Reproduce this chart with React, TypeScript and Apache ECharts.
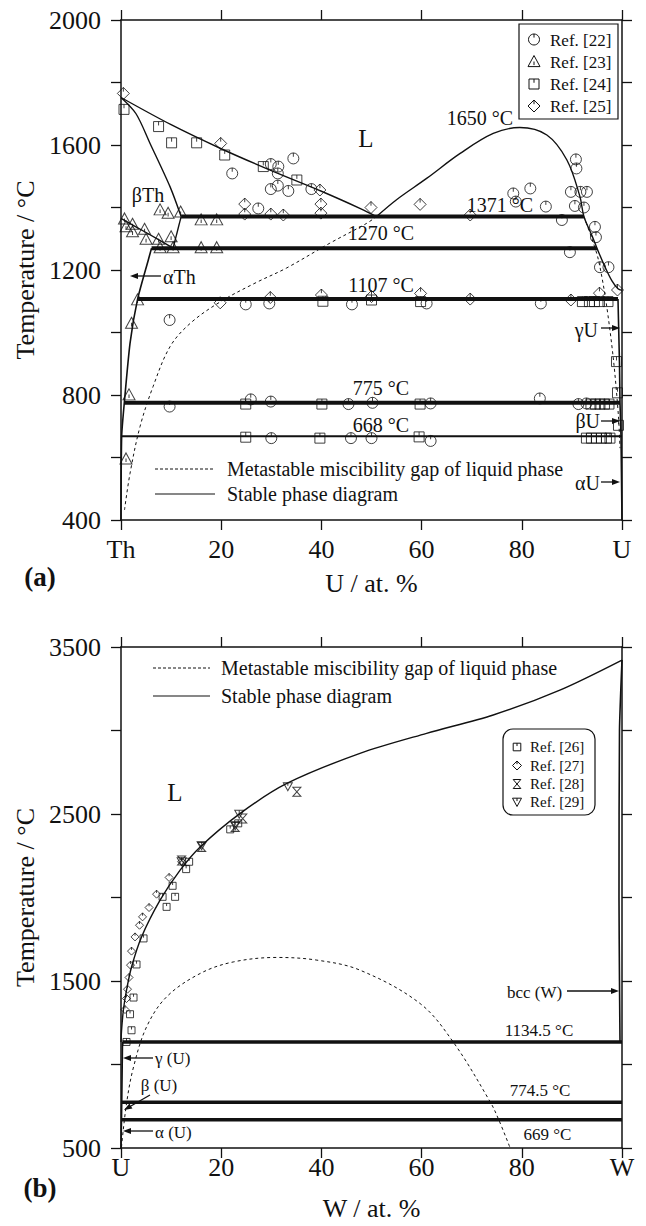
import React, { useEffect, useRef } from "react";
import * as echarts from "echarts";

// ---------- (a) Th-U ----------
const xTicksA = ["Th", "20", "40", "60", "80", "U"];
const xTicksB = ["U", "20", "40", "60", "80", "W"];

const thLiquidus = [[0, 1752], [10, 1665], [20, 1588], [30, 1518], [40, 1452], [48, 1395], [51, 1371]];
const uDome = [[51, 1371], [55, 1425], [61, 1493], [67.7, 1573], [74.3, 1637], [79.6, 1656], [85, 1632], [89, 1552], [91.6, 1435], [92.4, 1371], [94, 1310], [95, 1270], [96.6, 1210], [98, 1165], [99.2, 1140], [100, 1135]];
const thBetaSolidus = [[0, 1752], [3, 1700], [5.8, 1605], [9.8, 1466], [12, 1371]];
const thBetaAlpha = [[0, 1365], [5, 1320], [10.4, 1270]];
const thBetaSolvus = [[12, 1371], [10.4, 1270]];
const thAlphaSolvus = [[6.1, 1270], [5.45, 1232], [3.3, 1106], [1.8, 965], [0.66, 775], [0.13, 668], [0, 400]];
const uGammaSolvus = [[99.2, 1107], [99.5, 900], [99.6, 775], [99.8, 668], [100, 400]];
const metaLeftA = [[0.7, 432], [1.8, 549], [3.8, 699], [6.4, 827], [9.8, 955], [13.8, 1029], [19.8, 1098], [27, 1160], [33, 1206], [41.7, 1286], [49, 1349], [51, 1371]];
const metaRightA = [[92.4, 1371], [94, 1300], [95.3, 1232], [96.8, 1100], [98.3, 912], [99.3, 730], [99.6, 630]];
// [x start, x end, temperature]
const isothermsA = [[12, 92.4, 1371], [6.1, 95, 1270], [3.4, 99.2, 1107], [0.66, 99.6, 775], [0.13, 100, 668]];

const ref22 = [[22.2, 1509], [29.9, 1539], [31.4, 1531], [31.3, 1509], [34.4, 1557], [29.9, 1459], [31.3, 1470], [33.4, 1453], [38, 1459], [27.4, 1397], [78.3, 1445], [78.8, 1419], [81.7, 1461], [84.8, 1403], [88, 1360], [90.8, 1554], [90.9, 1525], [89.8, 1450], [91.7, 1450], [93, 1450], [90.6, 1405], [92.4, 1400], [89.6, 1257], [94.6, 1338], [94.8, 1305], [95.6, 1209], [97.3, 1209], [9.7, 1040], [24.9, 1090], [29.6, 1093], [46.1, 1090], [61, 1093], [83.8, 1093], [9.7, 763], [25.9, 786], [29.9, 779], [45.4, 771], [61.8, 773], [83.6, 789], [50.2, 775], [91.3, 771], [92.9, 773], [30, 662], [45.9, 662], [50, 662], [61.8, 653]];
const ref23 = [[7.8, 1394], [9.4, 1383], [11.9, 1387], [16, 1362], [19.1, 1362], [0.7, 1365], [1, 1340], [2.3, 1348], [2.3, 1324], [4.7, 1332], [5, 1300], [7.5, 1300], [10, 1308], [7.8, 1273], [10.4, 1273], [16, 1273], [19.1, 1273], [3.3, 1106], [2.1, 1031], [1.6, 802], [1, 597]];
const ref24 = [[0.6, 1714], [7.5, 1659], [10.1, 1607], [15.1, 1607], [20.7, 1568], [28.4, 1531], [35.1, 1488], [40.3, 1100], [50, 1104], [59.8, 1099], [92.1, 1099], [93.5, 1099], [94.5, 1099], [95.5, 1099], [97.2, 1099], [98.9, 907], [99.1, 807], [99.3, 703], [24.9, 771], [40.1, 771], [59.7, 771], [93.8, 771], [94.7, 771], [95.6, 771], [96.5, 771], [97.4, 771], [24.9, 665], [39.7, 662], [59.5, 666], [92.9, 662], [93.9, 662], [94.9, 662], [95.9, 662], [96.9, 662], [97.6, 662]];
const ref25 = [[0.47, 1765], [19.9, 1605], [39.7, 1456], [24.7, 1411], [24.7, 1379], [29.9, 1379], [32.4, 1376], [39.9, 1411], [39.9, 1382], [49.9, 1400], [59.7, 1410], [69.7, 1376], [19.8, 1095], [29.8, 1112], [40, 1120], [50, 1115], [59.8, 1125], [69.7, 1107], [89.8, 1104], [95.5, 1126], [99.1, 1136]];

// ---------- (b) U-W ----------
const wLiquidus = [[0, 1135], [0.1, 1200], [0.47, 1325], [1.1, 1445], [2.1, 1584], [4.1, 1764], [7.8, 1984], [11.8, 2164], [15.8, 2303], [23.8, 2504], [33.1, 2683], [47.7, 2863], [61, 2983], [74.3, 3093], [87.6, 3242], [100, 3422]];
const wSolvus = [[100, 3422], [99.5, 3000], [99.4, 2000], [99.5, 1500], [99.6, 1134.5]];
const uSideB = [[0.3, 1134.5], [0.15, 774.5], [0.1, 669], [0, 500]];
const metaB = [[0.1, 506], [1.1, 766], [2.5, 985], [5.1, 1225], [9.1, 1405], [15.8, 1545], [22.4, 1614], [31.1, 1641], [39.1, 1625], [47.7, 1565], [59.7, 1365], [66.3, 1135], [73.7, 776], [75.3, 676], [77.6, 506]];
const isothermsB = [[0.3, 100, 1134.5], [0, 100, 774.5], [0, 100, 669]];

const ref26 = [[1.1, 1135], [2.1, 1205], [1.8, 1301], [2.5, 1401], [3.1, 1599], [4.5, 1755], [9.1, 1944], [10.8, 2004], [8.3, 2004], [10.3, 2070], [13, 2170], [13.6, 2214], [21.8, 2408], [23.4, 2444]];
const ref27 = [[0.8, 1329], [1.1, 1395], [1.3, 1451], [1.6, 1521], [1.9, 1595], [2.1, 1679], [2.8, 1764], [3.7, 1834], [4.3, 1884], [5.6, 1940], [7.1, 2020], [9.6, 2120], [12.1, 2214]];
const ref28 = [[16.1, 2303], [24.3, 2473], [35.1, 2633], [12.1, 2222], [22.8, 2423]];
const ref29 = [[12.1, 2214], [16.1, 2310], [23.6, 2499], [33.3, 2663], [22.8, 2430]];

const FONT = "'Liberation Serif', 'Times New Roman', serif";
const INK = "#111";

const SYM_CIRCLE = "path://M10,0C15.5,0 20,4.5 20,10C20,15.5 15.5,20 10,20C4.5,20 0,15.5 0,10C0,4.5 4.5,0 10,0ZM10,0L10,7";
const SYM_TRI = "path://M10,0L20,18L0,18ZM10,9L10,15";
const SYM_SQ = "path://M0,0L18,0L18,18L0,18ZM9,0L9,7";
const SYM_DIA = "path://M10,0L20,10L10,20L0,10ZM10,0L10,7";
const SYM_HG = "path://M0,0L16,0L0,18L16,18Z";
const SYM_DT = "path://M0,0L18,0L9,16ZM9,0L9,6";

function lineS(data: number[][], gi: number, width: number, dashed = false, smooth: number | boolean = false) {
  return {
    type: "line",
    xAxisIndex: gi * 2,
    yAxisIndex: gi * 2,
    data,
    symbol: "none",
    showSymbol: false,
    smooth,
    silent: true,
    z: 2,
    lineStyle: { color: INK, width, type: dashed ? [3, 3] : "solid" },
  };
}
function iso(rows: number[][], gi: number, widths: number[]) {
  return rows.map((r, i) => lineS([[r[0], r[2]], [r[1], r[2]]], gi, widths[i]));
}
function mk(data: number[][], sym: string, size: number[], gi: number) {
  return {
    type: "scatter",
    xAxisIndex: gi * 2,
    yAxisIndex: gi * 2,
    data,
    symbol: sym,
    symbolSize: size,
    silent: true,
    z: 3,
    itemStyle: { color: "rgba(0,0,0,0)", borderColor: INK, borderWidth: 1 },
  };
}

const tickStyle = { show: true, inside: false, length: 10, lineStyle: { color: INK, width: 1.3 } };
const lineStyleAx = { show: true, onZero: false, lineStyle: { color: INK, width: 1.5 } };

function xBottom(gi: number, name: string, labels: string[], margin: number, nameGap: number) {
  return {
    gridIndex: gi, type: "value", min: 0, max: 100, interval: 20, position: "bottom",
    axisLine: lineStyleAx, axisTick: tickStyle, splitLine: { show: false },
    axisLabel: {
      margin, fontSize: 26, fontFamily: FONT, color: INK, showMinLabel: true, showMaxLabel: true,
      formatter: (v: number) => labels[Math.round(v / 20)] ?? "",
    },
    name, nameLocation: "middle", nameGap,
    nameTextStyle: { fontSize: 26, fontFamily: FONT, color: INK },
  };
}
function xTop(gi: number) {
  return {
    gridIndex: gi, type: "value", min: 0, max: 100, interval: 20, position: "top",
    axisLine: lineStyleAx, axisTick: tickStyle, splitLine: { show: false }, axisLabel: { show: false },
  };
}
function yLeft(gi: number, min: number, max: number, interval: number, labelStep: number) {
  return {
    gridIndex: gi, type: "value", min, max, interval, position: "left",
    axisLine: lineStyleAx, axisTick: tickStyle, splitLine: { show: false },
    axisLabel: {
      margin: 20, fontSize: 26, fontFamily: FONT, color: INK,
      formatter: (v: number) => ((v - min) % labelStep === 0 ? String(v) : ""),
    },
    name: "Temperature / °C", nameLocation: "middle", nameGap: 83,
    nameTextStyle: { fontSize: 26, fontFamily: FONT, color: INK },
  };
}
function yRight(gi: number, min: number, max: number, interval: number) {
  return {
    gridIndex: gi, type: "value", min, max, interval, position: "right",
    axisLine: lineStyleAx, axisTick: tickStyle, splitLine: { show: false }, axisLabel: { show: false },
  };
}

function txt(text: string, x: number, y: number, size: number, align = "center", bold = false) {
  return {
    type: "text", x, y, silent: true, z: 10,
    style: {
      text, fontSize: size, fontFamily: FONT, fontWeight: bold ? "bold" : "normal", fill: INK,
      align, verticalAlign: "middle", textAlign: align, textVerticalAlign: "middle",
    },
  };
}
function seg(x1: number, y1: number, x2: number, y2: number, w = 1.3, dash?: number[]) {
  return {
    type: "line", silent: true, z: 10,
    shape: { x1, y1, x2, y2 },
    style: { stroke: INK, lineWidth: w, lineDash: dash },
  };
}
function arrow(x1: number, y1: number, x2: number, y2: number) {
  const dx = x2 - x1, dy = y2 - y1;
  const L = Math.hypot(dx, dy);
  const ux = dx / L, uy = dy / L;
  const bx = x2 - ux * 8, by = y2 - uy * 8;
  const nx = -uy * 3, ny = ux * 3;
  return [
    seg(x1, y1, bx, by, 1.3),
    { type: "polygon", silent: true, z: 10, shape: { points: [[x2, y2], [bx + nx, by + ny], [bx - nx, by - ny]] }, style: { fill: INK } },
  ];
}
const hollow = { fill: "rgba(0,0,0,0)", stroke: INK, lineWidth: 1 };
function gCircle(cx: number, cy: number, r: number) {
  return [
    { type: "circle", silent: true, z: 10, shape: { cx, cy, r }, style: hollow },
    seg(cx, cy - r, cx, cy - r * 0.35, 1),
  ];
}
function gTri(cx: number, cy: number, r: number) {
  return [
    { type: "polygon", silent: true, z: 10, shape: { points: [[cx, cy - r], [cx + r, cy + r * 0.85], [cx - r, cy + r * 0.85]] }, style: hollow },
    seg(cx, cy, cx, cy + r * 0.6, 1),
  ];
}
function gSq(cx: number, cy: number, r: number) {
  return [
    { type: "polygon", silent: true, z: 10, shape: { points: [[cx - r, cy - r], [cx + r, cy - r], [cx + r, cy + r], [cx - r, cy + r]] }, style: hollow },
    seg(cx, cy - r, cx, cy - r * 0.25, 1),
  ];
}
function gDia(cx: number, cy: number, r: number) {
  return [
    { type: "polygon", silent: true, z: 10, shape: { points: [[cx, cy - r], [cx + r, cy], [cx, cy + r], [cx - r, cy]] }, style: hollow },
    seg(cx, cy - r, cx, cy - r * 0.3, 1),
  ];
}
function gHg(cx: number, cy: number, r: number) {
  return [
    { type: "polygon", silent: true, z: 10, shape: { points: [[cx - r * 0.85, cy - r], [cx + r * 0.85, cy - r], [cx - r * 0.85, cy + r], [cx + r * 0.85, cy + r]] }, style: hollow },
  ];
}
function gDt(cx: number, cy: number, r: number) {
  return [
    { type: "polygon", silent: true, z: 10, shape: { points: [[cx - r, cy - r * 0.85], [cx + r, cy - r * 0.85], [cx, cy + r]] }, style: hollow },
    seg(cx, cy - r * 0.85, cx, cy - r * 0.2, 1),
  ];
}

function buildGraphic() {
  const g: any[] = [];
  // (a)
  g.push(txt("L", 366, 138, 25));
  g.push(txt("1650 °C", 480, 118, 20));
  g.push(txt("1371 °C", 500, 205, 20));
  g.push(txt("1270 °C", 381, 233, 20));
  g.push(txt("1107 °C", 381, 285, 20));
  g.push(txt("775 °C", 381, 388, 20));
  g.push(txt("668 °C", 381, 425, 20));
  g.push(txt("βTh", 148, 195, 20));
  g.push(txt("αTh", 163, 277, 20, "left"));
  g.push(...arrow(161, 276, 130, 276));
  g.push(txt("γU", 598, 330, 20, "right"));
  g.push(...arrow(601, 328, 620, 328));
  g.push(txt("βU", 600, 421, 20, "right"));
  g.push(...arrow(601, 421, 620, 421));
  g.push(txt("αU", 600, 483, 20, "right"));
  g.push(...arrow(601, 482, 620, 482));
  g.push(seg(155, 469, 215, 469, 1, [3, 2]));
  g.push(txt("Metastable miscibility gap of liquid phase", 227, 469, 20, "left"));
  g.push(seg(155, 494, 215, 494, 1.2));
  g.push(txt("Stable phase diagram", 227, 494, 20, "left"));
  g.push({ type: "rect", silent: true, z: 9, shape: { x: 519, y: 24, width: 99, height: 95 }, style: { fill: "#fff", stroke: INK, lineWidth: 1.2 } });
  g.push(...gCircle(534, 39.5, 5.5));
  g.push(txt("Ref. [22]", 550, 40, 17, "left"));
  g.push(...gTri(534, 61.5, 6));
  g.push(txt("Ref. [23]", 550, 62, 17, "left"));
  g.push(...gSq(534, 84, 5));
  g.push(txt("Ref. [24]", 550, 84, 17, "left"));
  g.push(...gDia(534, 106, 6));
  g.push(txt("Ref. [25]", 550, 106, 17, "left"));
  g.push(txt("(a)", 40, 577, 27, "center", true));
  // (b)
  g.push(txt("L", 175, 792, 25));
  g.push(txt("bcc (W)", 534.5, 992, 17));
  g.push(...arrow(567, 991, 619, 991));
  g.push(txt("1134.5 °C", 539, 1030.5, 17));
  g.push(txt("774.5 °C", 540, 1090, 17));
  g.push(txt("669 °C", 547.5, 1134, 17));
  g.push(txt("γ (U)", 155, 1058, 17, "left"));
  g.push(...arrow(153, 1058, 123, 1058));
  g.push(txt("β (U)", 159, 1085, 17));
  g.push(...arrow(150, 1095, 124, 1110));
  g.push(txt("α (U)", 155, 1132, 17, "left"));
  g.push(...arrow(153, 1131, 123, 1131));
  g.push(seg(153, 668, 210, 668, 1, [3, 2]));
  g.push(txt("Metastable miscibility gap of liquid phase", 221, 668, 20, "left"));
  g.push(seg(153, 696, 210, 696, 1.2));
  g.push(txt("Stable phase diagram", 221, 696, 20, "left"));
  g.push({ type: "rect", silent: true, z: 9, shape: { x: 503, y: 729, width: 92, height: 86, r: 10 }, style: { fill: "#fff", stroke: INK, lineWidth: 1.2 } });
  g.push(...gSq(517, 747, 3.8));
  g.push(txt("Ref. [26]", 530, 747, 15, "left"));
  g.push(...gDia(517, 765.5, 4.5));
  g.push(txt("Ref. [27]", 530, 765.5, 15, "left"));
  g.push(...gHg(517, 784, 4.5));
  g.push(txt("Ref. [28]", 530, 784, 15, "left"));
  g.push(...gDt(517, 802, 4.5));
  g.push(txt("Ref. [29]", 530, 802, 15, "left"));
  g.push(txt("(b)", 40, 1188, 27, "center", true));
  return g;
}

export default function App() {
  const ref = useRef<HTMLDivElement>(null);
  useEffect(() => {
    if (!ref.current) return;
    const chart = echarts.init(ref.current, undefined, { renderer: "svg" });
    const option: any = {
      animation: false,
      backgroundColor: "#fff",
      grid: [
        { left: 121, top: 20, width: 501, height: 500 },
        { left: 121, top: 647, width: 501, height: 501 },
      ],
      xAxis: [
        xBottom(0, "U / at. %", xTicksA, 16, 50),
        xTop(0),
        xBottom(1, "W / at. %", xTicksB, 6, 47),
        xTop(1),
      ],
      yAxis: [
        yLeft(0, 400, 2000, 200, 400),
        yRight(0, 400, 2000, 200),
        yLeft(1, 500, 3500, 500, 1000),
        yRight(1, 500, 3500, 500),
      ],
      series: [
        lineS(thLiquidus, 0, 1.4, false, 0.3),
        lineS(uDome, 0, 1.4, false, 0.35),
        lineS(thBetaSolidus, 0, 1.4, false, 0.3),
        lineS(thBetaAlpha, 0, 1.4, false, 0.2),
        lineS(thBetaSolvus, 0, 1.4),
        lineS(thAlphaSolvus, 0, 1.6, false, 0.2),
        lineS(uGammaSolvus, 0, 1.6),
        lineS(metaLeftA, 0, 1, true, 0.35),
        lineS(metaRightA, 0, 1, true, 0.3),
        ...iso(isothermsA, 0, [4, 4, 4, 4, 2]),
        mk(ref22, SYM_CIRCLE, [11, 11], 0),
        mk(ref23, SYM_TRI, [12, 11], 0),
        mk(ref24, SYM_SQ, [10, 10], 0),
        mk(ref25, SYM_DIA, [12, 12], 0),
        lineS(wLiquidus, 1, 1.4, false, 0.3),
        lineS(wSolvus, 1, 1.6, false, 0.2),
        lineS(uSideB, 1, 1.6),
        lineS(metaB, 1, 1, true, 0.35),
        ...iso(isothermsB, 1, [3.5, 3.5, 3.5]),
        mk(ref26, SYM_SQ, [7, 7], 1),
        mk(ref27, SYM_DIA, [8, 8], 1),
        mk(ref28, SYM_HG, [8, 9], 1),
        mk(ref29, SYM_DT, [9, 8], 1),
      ],
      graphic: buildGraphic(),
    };
    chart.setOption(option);
    return () => chart.dispose();
  }, []);
  return (
    <div
      ref={ref}
      style={{ position: "absolute", left: 0, top: 0, width: 646, height: 1226, background: "#fff" }}
    />
  );
}
